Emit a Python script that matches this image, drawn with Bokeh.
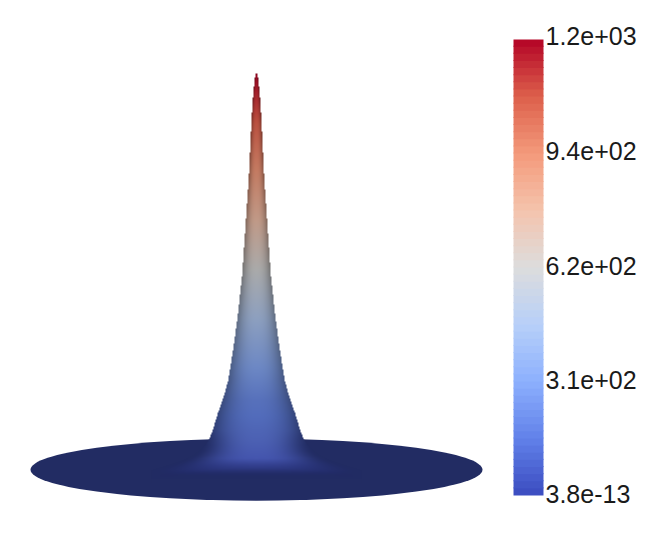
import numpy as np
from bokeh.plotting import figure
from bokeh.embed import file_html
from bokeh.resources import INLINE
from bokeh.core.properties import value

# Scalar ticks of the colour bar
tick_labels = ["1.2e+03", "9.4e+02", "6.2e+02", "3.1e+02", "3.8e-13"]
tick_rows = [35.5, 150, 265, 379, 493]

# Cool-to-warm colour stops
map_t = [0.0, 0.125, 0.25, 0.375, 0.5, 0.625, 0.75, 0.875, 1.0]
map_r = [59, 98, 141, 184, 221, 245, 244, 221, 180]
map_g = [76, 130, 176, 208, 221, 196, 154, 96, 4]
map_b = [192, 234, 254, 249, 221, 173, 123, 76, 38]

# Silhouette of the peak: screen row, half width
sil_row = [73, 75, 80, 93, 120, 150, 177, 203, 237, 273, 313, 347, 380, 397, 413, 430, 439, 445, 450, 455, 460, 465, 470, 482]
sil_hw = [0.5, 1.2, 1.8, 3.2, 5.0, 6.4, 7.7, 9.5, 11.8, 14.2, 18.5, 23.0, 28.3, 33.0, 38.7, 43.8, 47.5, 51, 56, 63, 73, 88, 105, 105]

# Brightness along the centre line: screen row, factor
lit_row = [73, 120, 177, 270, 340, 400, 430, 458, 476, 482]
lit_val = [0.85, 0.85, 0.80, 0.77, 0.77, 0.78, 0.82, 0.88, 0.52, 0.52]

# Pale sheen on the flare: screen row, added level
sheen_row = [400, 440, 458, 476]
sheen_val = [0, 10, 12, 0]

DISK = 0.52
DISK_COLOR = "#222c63"
CX, CY, RX, RY = 256, 469.2, 226, 31
TOP_ROW, BASE_ROW = 73, 465
BAR_L, BAR_R, BAR_T, BAR_B, N_BANDS = 513, 543, 39, 495, 64


def cmap(t):
    return np.stack([np.interp(t, map_t, c) for c in (map_r, map_g, map_b)], axis=-1)


def Y(row):
    return 538 - np.asarray(row, dtype=float)


p = figure(width=650, height=522, x_range=(0, 650), y_range=(16, 538),
           output_backend="svg", toolbar_location=None, min_border=0,
           outline_line_color=None)
p.axis.visible = False
p.grid.visible = False

# Flat disc
p.ellipse(x=[CX], y=[Y(CY)], width=2 * RX, height=2 * RY, fill_color=DISK_COLOR,
          line_color=None)

# Shaded peak
x0, x1, r0, r1 = 140, 372, 70, 482
rows = np.arange(r0, r1)
cols = np.arange(x0, x1)
xx, rr = np.meshgrid(cols + 0.5, rows + 0.5)
hw = np.interp(rr, sil_row, sil_hw)
u = np.clip(np.abs(xx - CX) / hw, 0, 1.5)
t = np.clip((BASE_ROW - rr) / (BASE_ROW - TOP_ROW), 0, 1)
c = np.interp(rr, lit_row, lit_val)
falloff = 1 - np.clip(u, 0, 1) ** 2.4
shade = DISK + (c - DISK) * falloff
rgb = cmap(t) * shade[..., None]
sheen = np.interp(rr, sheen_row, sheen_val) * falloff
rgb[..., 0] += sheen
rgb[..., 1] += sheen
# The flare's rim and its lowest rows settle onto the disc colour
disc_rgb = np.array([int(DISK_COLOR[i:i + 2], 16) for i in (1, 3, 5)], dtype=float)
rim = np.clip((rr - 430) / 22, 0, 1) * np.clip(u, 0, 1) ** 3
low = np.clip((rr - 468) / 10, 0, 1)
settle = np.maximum(rim, low)[..., None]
rgb = rgb * (1 - settle) + disc_rgb * settle
img = np.zeros(xx.shape, dtype=np.uint32)
view = img.view(dtype=np.uint8).reshape(xx.shape + (4,))
view[..., :3] = np.clip(rgb, 0, 255).astype(np.uint8)
view[..., 3] = np.where((u <= 1) & (rr >= TOP_ROW), 255, 0).astype(np.uint8)
p.image_rgba(image=[img[::-1]], x=[x0], y=[Y(r1)], dw=[x1 - x0], dh=[r1 - r0])

# Colour bar: bands painted bottom-up, each reaching a little under the next
edges = np.linspace(BAR_B, BAR_T, N_BANDS + 1)
band_t = (np.arange(N_BANDS) + 0.5) / N_BANDS
band_rgb = cmap(band_t)
band_hex = ["#%02x%02x%02x" % tuple(int(v) for v in col) for col in band_rgb]
band_top = Y(edges[1:]).copy()
band_top[:-1] += 1
p.quad(left=BAR_L, right=BAR_R, bottom=Y(edges[:-1]), top=band_top,
       fill_color=band_hex, line_color=None)

p.text(x=[545] * len(tick_labels), y=Y(tick_rows), text=tick_labels,
       text_font=value("Liberation Sans"), text_font_size="25px",
       text_color="#1a1a1a", text_baseline="middle", text_align="left")

open("out.html", "w").write(file_html(p, INLINE))
